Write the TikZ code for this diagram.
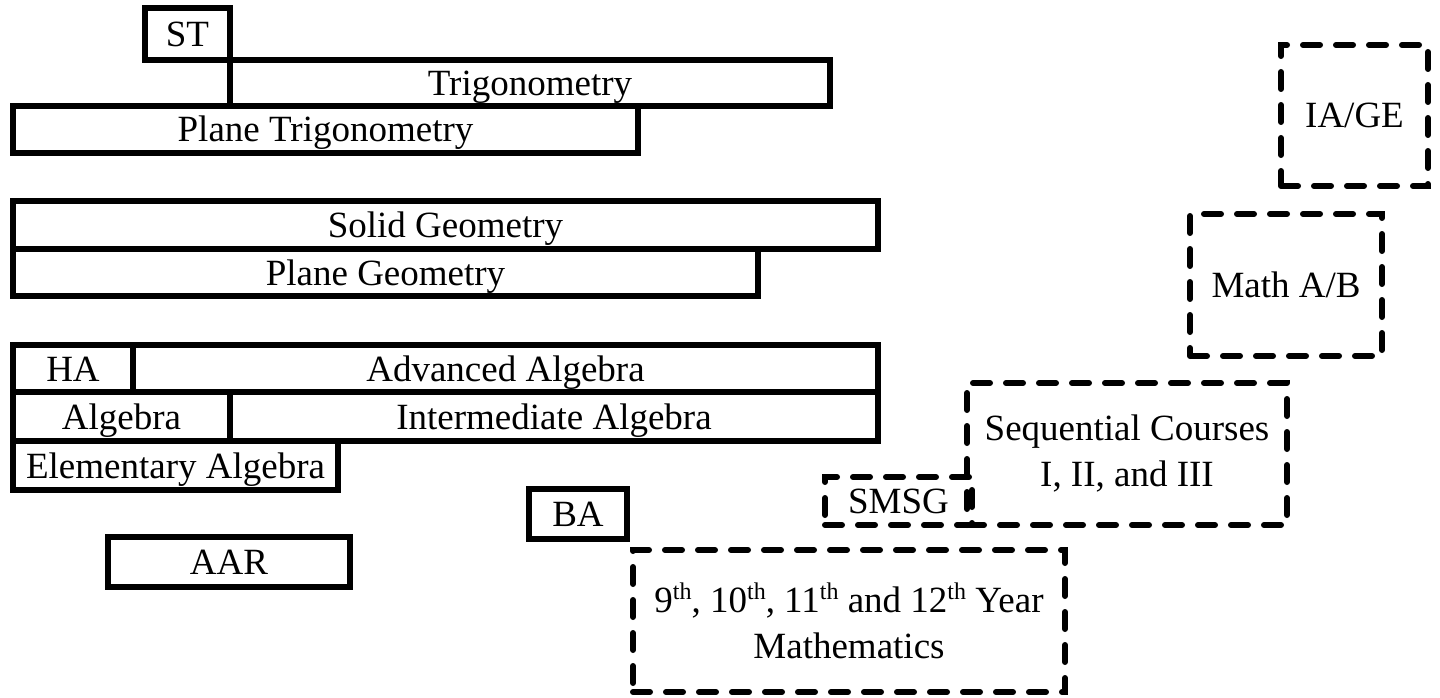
\documentclass[tikz,border=0pt]{standalone}
\usepackage{fontspec}
\setmainfont{Liberation Serif}
\newcommand{\ordsup}[1]{\raisebox{0.36em}{\fontsize{24}{24}\selectfont #1}}
\begin{document}
\begin{tikzpicture}[x=1pt,y=-1pt,
  txt/.style={font=\fontsize{37}{46}\selectfont, align=center},
  sbox/.style={txt, draw, line width=5.5pt, inner sep=0pt, text height=25pt, text depth=0pt},
  dbox/.style={txt, draw, line width=6pt, inner sep=0pt, dash pattern=on 17pt off 16pt, line cap=round}]
\useasboundingbox (0,0) rectangle (1440,698);
% solid boxes
\node[sbox, minimum width=85pt, minimum height=52pt] (st) at (187.5,34) {ST};
\node[sbox, minimum width=600pt, minimum height=46pt] (trig) at (530,83) {Trigonometry};
\node[sbox, minimum width=625pt, minimum height=47pt] (ptrig) at (325.5,129.5) {Plane Trigonometry};
\node[sbox, minimum width=865pt, minimum height=48pt] (sgeo) at (445.5,225) {Solid Geometry};
\node[sbox, minimum width=745pt, minimum height=47pt] (pgeo) at (385.5,272.5) {Plane Geometry};
\node[sbox, minimum width=120pt, minimum height=47pt] (ha) at (73,368.5) {HA};
\node[sbox, minimum width=745pt, minimum height=47pt] (adv) at (505.5,368.5) {Advanced Algebra};
\node[sbox, minimum width=217pt, minimum height=49pt] (alg) at (121.5,416.5) {Algebra};
\node[sbox, minimum width=648pt, minimum height=49pt] (inter) at (554,416.5) {Intermediate Algebra};
\node[sbox, minimum width=325pt, minimum height=49pt] (elem) at (175.5,465.5) {Elementary Algebra};
\node[sbox, minimum width=242pt, minimum height=50pt] (aar) at (229,562) {AAR};
\node[sbox, minimum width=98pt, minimum height=50pt] (ba) at (578,514) {BA};
% dashed boxes
\node[dbox, minimum width=320pt, minimum height=142pt] (seq) at (1127,454) {Sequential Courses\\I, II, and III};
\node[dbox, minimum width=147pt, minimum height=48pt, text height=25pt, text depth=0pt] (smsg) at (898.5,501) {SMSG};
\node[dbox, minimum width=192pt, minimum height=142pt] (mab) at (1286,285) {Math A/B};
\node[dbox, minimum width=147pt, minimum height=141pt] (iage) at (1354.5,115.5) {IA/GE};
\node[dbox, minimum width=432pt, minimum height=142pt] (year) at (849,621) {9\ordsup{th}, 10\ordsup{th}, 11\ordsup{th} and 12\ordsup{th} Year\\Mathematics};
\end{tikzpicture}
\end{document}
